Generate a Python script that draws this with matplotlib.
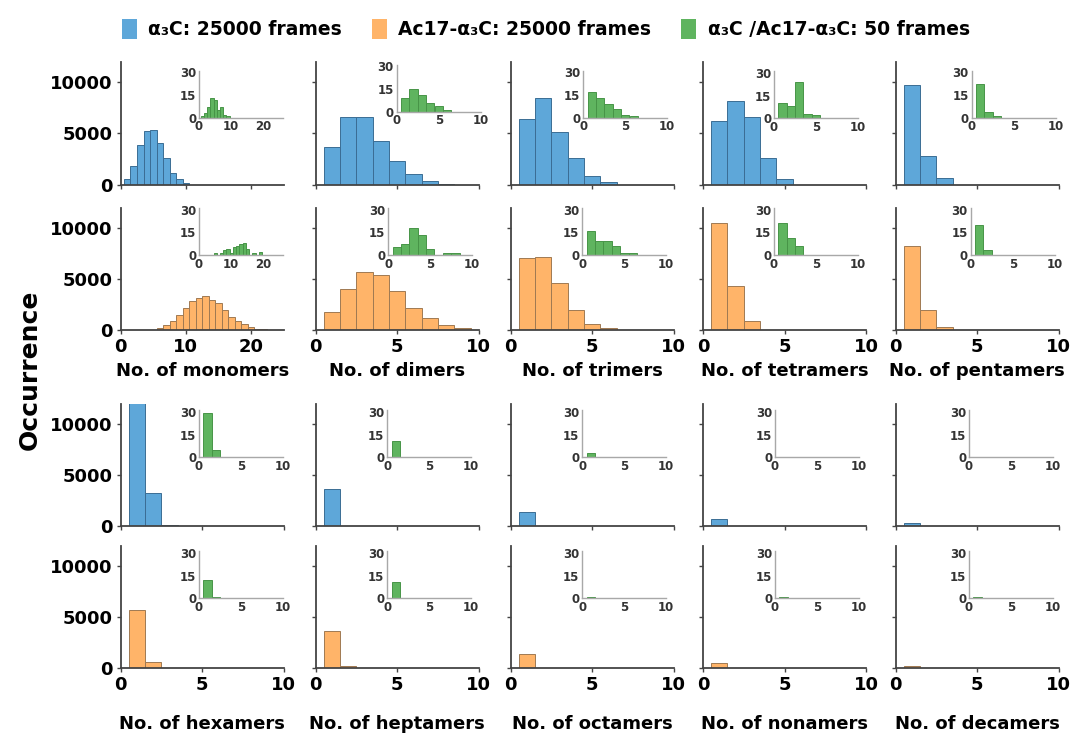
import numpy as np
import matplotlib.pyplot as plt
from matplotlib.patches import Patch

plt.rcParams['font.family'] = ['DejaVu Sans']
plt.rcParams['font.weight'] = 'bold'

species = ['monomers', 'dimers', 'trimers', 'tetramers', 'pentamers',
           'hexamers', 'heptamers', 'octamers', 'nonamers', 'decamers']

# occurrence per bin; bins are 1 wide and centred on start, start+1, ...
a3c_start = [1, 1, 1, 1, 1, 1, 1, 1, 1, 1]
a3c_counts = [
    [490, 1800, 3900, 5200, 5330, 4050, 2630, 1150, 490, 100],
    [3680, 6580, 6650, 4240, 2270, 990, 330, 80],
    [6410, 8450, 5100, 2600, 820, 260],
    [6250, 8220, 6580, 2570, 490],
    [9740, 2760, 590],
    [15500, 3200, 100],
    [3630],
    [1340],
    [690],
    [300],
]

ac17_start = [6, 1, 1, 1, 1, 1, 1, 1, 1, 1]
ac17_counts = [
    [160, 490, 890, 1480, 2200, 2860, 3130, 3290, 2960, 2630, 1970, 1320,
     890, 560, 260, 130, 60],
    [1800, 4050, 5650, 5360, 3850, 2200, 1150, 490, 160],
    [7030, 7190, 4580, 1960, 560, 160],
    [10490, 4330, 880],
    [8200, 1960, 260],
    [5640, 630],
    [3660, 200],
    [1350],
    [450],
    [200],
]

# 50-frame runs shown in the insets
a3c50_start = [1, 1, 1, 1, 1, 1, 1, 1, 1, 1]
a3c50_counts = [
    [1, 3, 7, 13, 12, 5, 7, 2, 1],
    [9, 15, 11, 6, 4, 1],
    [17, 13, 9, 6, 2, 1],
    [10, 8, 24, 3, 2],
    [22, 4, 1],
    [29, 5],
    [11],
    [3],
    [],
    [],
]

ac17_50_start = [5, 1, 1, 1, 1, 1, 1, 1, 1, 1]
ac17_50_counts = [
    [1, 0, 1, 3, 4, 1, 5, 6, 7, 8, 4, 0, 1, 0, 2],
    [5, 7, 18, 13, 4, 0, 1, 1],
    [16, 9, 9, 6, 1, 1],
    [21, 11, 6],
    [20, 3],
    [12, 1],
    [11],
    [1],
    [1],
    [1],
]

blue, blue_edge = '#5ea7d9', '#3b6d94'
orange, orange_edge = '#ffb469', '#a07a52'
green, green_edge = '#5fb45f', '#479447'

W, H = 1077, 738
fig = plt.figure(figsize=(W / 100, H / 100), dpi=100)


def add_px_axes(left, bottom, w, h):
    # pixel box (y measured from the top) -> figure fraction
    return fig.add_axes([left / W, 1 - bottom / H, w / W, h / H])


main_left = [120.7, 315.7, 510.7, 703, 895.7]
main_bottom = [184.5, 330, 526, 668]
main_w, main_h = 163, 122.5

inset_left = [[199, 396.7, 583.3, 774, 971.7],
              [199, 388.3, 582.3, 774, 970.7],
              [199, 387.3, 582.3, 775, 969],
              [199, 387.3, 582.3, 775, 969]]
inset_bottom = [[117.7, 111.7, 117.7, 118.3, 117.7],
                [255, 255, 255, 255, 255],
                [457.3, 457.3, 457.3, 457.3, 457.3],
                [598.3, 598.3, 598.3, 598.3, 598.3]]
inset_w, inset_h = 84, 47


def bars(ax, counts, start, color, edge):
    centres = start + np.arange(len(counts))
    ax.bar(centres, counts, width=1.0, color=color, edgecolor=edge,
           linewidth=0.7)


for s, name in enumerate(species):
    block, col = divmod(s, 5)
    series = [(a3c_counts[s], a3c_start[s], a3c50_counts[s], a3c50_start[s],
               blue, blue_edge),
              (ac17_counts[s], ac17_start[s], ac17_50_counts[s],
               ac17_50_start[s], orange, orange_edge)]
    for k, (main, m0, small, i0, c, ec) in enumerate(series):
        row = 2 * block + k
        ax = add_px_axes(main_left[col], main_bottom[row], main_w, main_h)
        bars(ax, main, m0, c, ec)
        if s == 0:
            ax.set_xlim(0, 25)
            ax.set_xticks([0, 10, 20])
        else:
            ax.set_xlim(0, 10)
            ax.set_xticks([0, 5, 10])
        ax.set_ylim(0, 12000)
        ax.set_yticks([0, 5000, 10000])
        for side in ['top', 'right']:
            ax.spines[side].set_visible(False)
        for side in ['left', 'bottom']:
            ax.spines[side].set_color('#444444')
            ax.spines[side].set_linewidth(1.3)
        ax.tick_params(direction='out', length=3, width=1, color='#444444',
                       labelsize=13, pad=3,
                       labelbottom=(k == 1), labelleft=(col == 0))
        if k == 1:
            ax.set_xlabel('No. of ' + name, fontsize=13, fontweight='bold',
                          labelpad=4 if block == 0 else 15)

        ins = add_px_axes(inset_left[row][col], inset_bottom[row][col],
                          inset_w, inset_h)
        bars(ins, small, i0, green, green_edge)
        if s == 0:
            ins.set_xlim(0, 26)
            ins.set_xticks([0, 10, 20])
        else:
            ins.set_xlim(0, 10)
            ins.set_xticks([0, 5, 10])
        ins.set_ylim(0, 31)
        ins.set_yticks([0, 15, 30])
        ins.patch.set_alpha(0)
        for side in ['top', 'right']:
            ins.spines[side].set_visible(False)
        for side in ['left', 'bottom']:
            ins.spines[side].set_color('#a8a8a8')
            ins.spines[side].set_linewidth(1.0)
        ins.tick_params(length=0, labelsize=8.5, pad=2, labelcolor='#333333')

fig.text(30 / W, 1 - 370 / H, 'Occurrence', rotation=90, fontsize=18,
         fontweight='bold', ha='center', va='center')

handles = [Patch(facecolor=blue), Patch(facecolor=orange),
           Patch(facecolor=green)]
names = ['α₃C: 25000 frames', 'Ac17-α₃C: 25000 frames',
         'α₃C /Ac17-α₃C: 50 frames']
fig.legend(handles, names, loc='upper center', ncol=3, frameon=False,
           bbox_to_anchor=(546 / W, 1 - 2 / H), fontsize=13.5,
           handlelength=0.8, handleheight=1.3, handletextpad=0.6,
           columnspacing=1.6)

fig.savefig('out.png', dpi=100)
